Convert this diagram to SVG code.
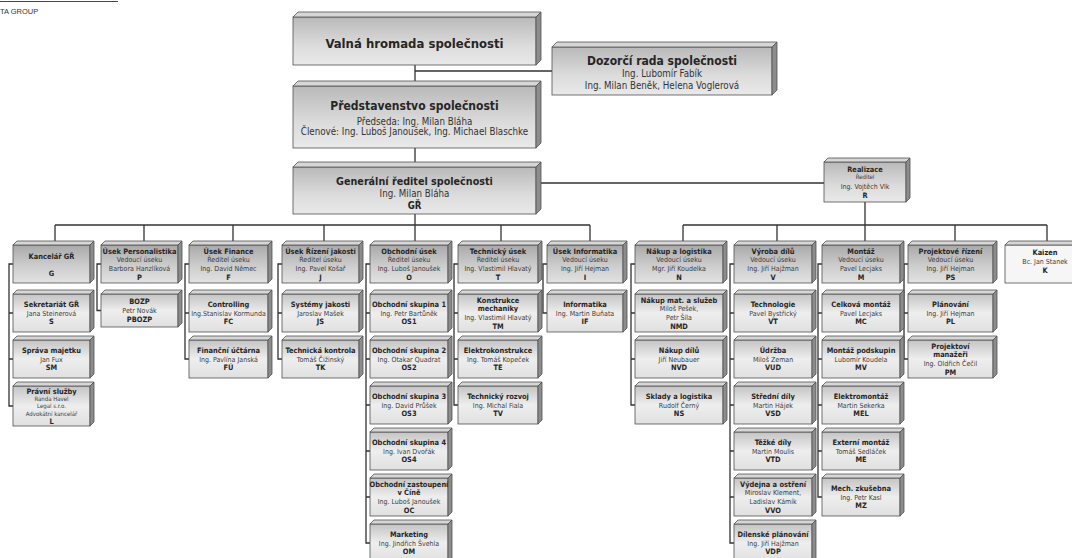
<svg xmlns="http://www.w3.org/2000/svg" width="1072" height="558" viewBox="0 0 1072 558">
<defs>
<linearGradient id="gH" x1="0" y1="0" x2="0" y2="1">
<stop offset="0" stop-color="#a9a9a9"/><stop offset="0.55" stop-color="#cdcdcd"/><stop offset="1" stop-color="#e2e2e2"/>
</linearGradient>
<linearGradient id="gS" x1="0" y1="0" x2="0" y2="1">
<stop offset="0" stop-color="#c4c4c4"/><stop offset="0.5" stop-color="#eeeeee"/><stop offset="1" stop-color="#e0e0e0"/>
</linearGradient>
<linearGradient id="gT" x1="0" y1="0" x2="0" y2="1">
<stop offset="0" stop-color="#b9b9b9"/><stop offset="0.6" stop-color="#dcdcdc"/><stop offset="1" stop-color="#e9e9e9"/>
</linearGradient>
</defs>
<style>
.box rect,.box path{stroke:#505050;stroke-width:0.8}
.hd rect{fill:url(#gH)}
.sb rect{fill:url(#gS)}
.big rect{fill:url(#gT)}
.kz rect{fill:#f6f6f6}
.tp{fill:#d6d6d6}
.sd{fill:#8c8c8c}
text{font-family:"DejaVu Sans Condensed","Liberation Sans",sans-serif;text-anchor:middle;fill:#262626}
.b{font-weight:bold;font-size:7.4px}
.r{font-size:7px;fill:#3a3a3a}
.s{font-size:6px;fill:#3a3a3a}
.t1{font-weight:bold;font-size:13px}
.t2{font-weight:bold;font-size:12px}
.t3{font-weight:bold;font-size:10.7px}
.r2{font-size:9.7px;fill:#333}
.b2{font-weight:bold;font-size:9.6px}
.hdr{font-family:"Liberation Sans",sans-serif;font-size:7.5px;text-anchor:start;fill:#333}
</style>
<rect width="1072" height="558" fill="#ffffff"/>
<g id="header">
<line x1="0" y1="1.5" x2="118" y2="1.5" stroke="#444" stroke-width="1"/>
<text class="hdr" x="0" y="14">TA GROUP</text>
</g>
<g id="connectors" fill="none" stroke="#333" stroke-width="1.3">
<path d="M415,65 V81 M415,71 H552 M415,148 V162 M536,183 H824 M415,214 V241 M55,225 H590 M55,225 V241 M144,225 V241 M233,225 V241 M324,225 V241 M501,225 V241 M590,225 V241 M865,202 V241 M683,225 H1047 M683,225 V241 M777,225 V241 M955,225 V241 M1047,225 V241"/>
<path d="M13,264 H9 V406 H13 M9,313 H13 M9,359 H13"/>
<path d="M101,264 H97 V310.5 H101"/>
<path d="M189,264 H185 V359 H189 M185,313 H189"/>
<path d="M282,264 H278 V359 H282 M278,313 H282"/>
<path d="M370,264 H366 V543 H370 M366,313 H370 M366,359 H370 M366,405 H370 M366,451 H370 M366,497 H370"/>
<path d="M458,264 H454 V405 H458 M454,313 H458 M454,359 H458"/>
<path d="M547,264 H543 V313 H547"/>
<path d="M635,264 H631 V405 H635 M631,313 H635 M631,359 H635"/>
<path d="M734,264 H730 V543 H734 M730,313 H734 M730,359 H734 M730,405 H734 M730,451 H734 M730,497 H734"/>
<path d="M822,264 H818 V497 H822 M818,313 H822 M818,359 H822 M818,405 H822 M818,451 H822"/>
<path d="M908,264 H904 V359 H908 M904,313 H908"/>
</g>

<g id="valna" class="box big">
<rect x="293" y="17" width="243" height="48"/>
<path class="tp" d="M293,17 l5,-5 h243 l-5,5 z"/><path class="sd" d="M536,17 l5,-5 v48 l-5,5 z"/>
<text class="t1" x="414.5" y="47.7">Valná hromada společnosti</text>
</g>
<g id="dozorci" class="box big">
<rect x="552" y="47" width="220" height="48"/>
<path class="tp" d="M552,47 l5,-5 h220 l-5,5 z"/><path class="sd" d="M772,47 l5,-5 v48 l-5,5 z"/>
<text x="662"><tspan class="t2" x="662" y="64.7">Dozorčí rada společnosti</tspan><tspan class="r2" x="662" y="77.1">Ing. Lubomír Fabík</tspan><tspan class="r2" x="662" y="89">Ing. Milan Beněk, Helena Voglerová</tspan></text>
</g>
<g id="predstavenstvo" class="box big">
<rect x="293" y="86" width="243" height="62"/>
<path class="tp" d="M293,86 l5,-5 h243 l-5,5 z"/><path class="sd" d="M536,86 l5,-5 v62 l-5,5 z"/>
<text x="414.5"><tspan class="t2" x="414.5" y="110.3">Představenstvo společnosti</tspan><tspan class="r2" x="414.5" y="124.7">Předseda: Ing. Milan Bláha</tspan><tspan class="r2" x="414.5" y="135.4">Členové: Ing. Luboš Janoušek, Ing. Michael Blaschke</tspan></text>
</g>
<g id="generalni" class="box big">
<rect x="293" y="167" width="243" height="47"/>
<path class="tp" d="M293,167 l5,-5 h243 l-5,5 z"/><path class="sd" d="M536,167 l5,-5 v47 l-5,5 z"/>
<text x="414.5"><tspan class="t3" x="414.5" y="184.6">Generální ředitel společnosti</tspan><tspan class="r2" x="414.5" y="197.4">Ing. Milan Bláha</tspan><tspan class="b2" x="414.5" y="209.1">GŘ</tspan></text>
</g>
<g id="realizace" class="box big">
<rect x="824" y="162" width="82" height="40"/>
<path class="tp" d="M824,162 l4,-4 h82 l-4,4 z"/><path class="sd" d="M906,162 l4,-4 v40 l-4,4 z"/>
<text x="865"><tspan class="b" x="865" y="171.7">Realizace</tspan><tspan class="s" x="865" y="179">Ředitel</tspan><tspan class="r" x="865" y="189.1">Ing. Vojtěch Vlk</tspan><tspan class="b" x="865" y="198.4">R</tspan></text>
</g>

<!-- Column 1 -->
<g id="kancelar" class="box hd">
<rect x="13" y="245" width="77" height="38"/>
<path class="tp" d="M13,245 l4,-4 h77 l-4,4 z"/><path class="sd" d="M90,245 l4,-4 v38 l-4,4 z"/>
<text x="51.5"><tspan class="b" x="51.5" y="259.3">Kancelář GŘ</tspan><tspan class="b" x="51.5" y="275.9">G</tspan></text>
</g>
<g id="sekretariat" class="box sb">
<rect x="13" y="294" width="77" height="38"/>
<path class="tp" d="M13,294 l4,-4 h77 l-4,4 z"/><path class="sd" d="M90,294 l4,-4 v38 l-4,4 z"/>
<text x="51.5"><tspan class="b" x="51.5" y="306.9">Sekretariát GŘ</tspan><tspan class="r" x="51.5" y="315.6">Jana Steinerová</tspan><tspan class="b" x="51.5" y="324.3">S</tspan></text>
</g>
<g id="sprava" class="box sb">
<rect x="13" y="340" width="77" height="38"/>
<path class="tp" d="M13,340 l4,-4 h77 l-4,4 z"/><path class="sd" d="M90,340 l4,-4 v38 l-4,4 z"/>
<text x="51.5"><tspan class="b" x="51.5" y="352.9">Správa majetku</tspan><tspan class="r" x="51.5" y="361.6">Jan Fux</tspan><tspan class="b" x="51.5" y="370.3">SM</tspan></text>
</g>
<g id="pravni" class="box sb">
<rect x="13" y="386" width="77" height="40"/>
<path class="tp" d="M13,386 l4,-4 h77 l-4,4 z"/><path class="sd" d="M90,386 l4,-4 v40 l-4,4 z"/>
<text x="51.5"><tspan class="b" x="51.5" y="393.7">Právní služby</tspan><tspan class="s" x="51.5" y="400.6">Randa Havel</tspan><tspan class="s" x="51.5" y="408.1">Legal s.r.o.</tspan><tspan class="s" x="51.5" y="415.6">Advokátní kancelář</tspan><tspan class="b" x="51.5" y="423.7">L</tspan></text>
</g>

<!-- Column 2 -->
<g id="personalistika" class="box hd">
<rect x="101" y="245" width="77" height="38"/>
<path class="tp" d="M101,245 l4,-4 h77 l-4,4 z"/><path class="sd" d="M178,245 l4,-4 v38 l-4,4 z"/>
<text x="139.5"><tspan class="b" x="139.5" y="253.55">Úsek Personalistika</tspan><tspan class="r" x="139.5" y="262.25">Vedoucí úseku</tspan><tspan class="r" x="139.5" y="270.95">Barbora Hanzlíková</tspan><tspan class="b" x="139.5" y="279.65">P</tspan></text>
</g>
<g id="bozp" class="box sb">
<rect x="101" y="294" width="77" height="33"/>
<path class="tp" d="M101,294 l4,-4 h77 l-4,4 z"/><path class="sd" d="M178,294 l4,-4 v33 l-4,4 z"/>
<text x="139.5"><tspan class="b" x="139.5" y="304.4">BOZP</tspan><tspan class="r" x="139.5" y="313.1">Petr Novák</tspan><tspan class="b" x="139.5" y="321.8">PBOZP</tspan></text>
</g>

<!-- Column 3 -->
<g id="finance" class="box hd">
<rect x="189" y="245" width="79" height="38"/>
<path class="tp" d="M189,245 l4,-4 h79 l-4,4 z"/><path class="sd" d="M268,245 l4,-4 v38 l-4,4 z"/>
<text x="228.5"><tspan class="b" x="228.5" y="253.55">Úsek Finance</tspan><tspan class="r" x="228.5" y="262.25">Ředitel úseku</tspan><tspan class="r" x="228.5" y="270.95">Ing. David Němec</tspan><tspan class="b" x="228.5" y="279.65">F</tspan></text>
</g>
<g id="controlling" class="box sb">
<rect x="189" y="294" width="79" height="38"/>
<path class="tp" d="M189,294 l4,-4 h79 l-4,4 z"/><path class="sd" d="M268,294 l4,-4 v38 l-4,4 z"/>
<text x="228.5"><tspan class="b" x="228.5" y="306.9">Controlling</tspan><tspan class="r" x="228.5" y="315.6">Ing.Stanislav Kormunda</tspan><tspan class="b" x="228.5" y="324.3">FC</tspan></text>
</g>
<g id="uctarna" class="box sb">
<rect x="189" y="340" width="79" height="38"/>
<path class="tp" d="M189,340 l4,-4 h79 l-4,4 z"/><path class="sd" d="M268,340 l4,-4 v38 l-4,4 z"/>
<text x="228.5"><tspan class="b" x="228.5" y="352.9">Finanční účtárna</tspan><tspan class="r" x="228.5" y="361.6">Ing. Pavlína Janská</tspan><tspan class="b" x="228.5" y="370.3">FÚ</tspan></text>
</g>

<!-- Column 4 -->
<g id="jakost" class="box hd">
<rect x="282" y="245" width="77" height="38"/>
<path class="tp" d="M282,245 l4,-4 h77 l-4,4 z"/><path class="sd" d="M359,245 l4,-4 v38 l-4,4 z"/>
<text x="320.5"><tspan class="b" x="320.5" y="253.55">Úsek Řízení jakosti</tspan><tspan class="r" x="320.5" y="262.25">Ředitel úseku</tspan><tspan class="r" x="320.5" y="270.95">Ing. Pavel Košař</tspan><tspan class="b" x="320.5" y="279.65">J</tspan></text>
</g>
<g id="systemy" class="box sb">
<rect x="282" y="294" width="77" height="38"/>
<path class="tp" d="M282,294 l4,-4 h77 l-4,4 z"/><path class="sd" d="M359,294 l4,-4 v38 l-4,4 z"/>
<text x="320.5"><tspan class="b" x="320.5" y="306.9">Systémy jakosti</tspan><tspan class="r" x="320.5" y="315.6">Jaroslav Mašek</tspan><tspan class="b" x="320.5" y="324.3">JS</tspan></text>
</g>
<g id="kontrola" class="box sb">
<rect x="282" y="340" width="77" height="38"/>
<path class="tp" d="M282,340 l4,-4 h77 l-4,4 z"/><path class="sd" d="M359,340 l4,-4 v38 l-4,4 z"/>
<text x="320.5"><tspan class="b" x="320.5" y="352.9">Technická kontrola</tspan><tspan class="r" x="320.5" y="361.6">Tomáš Čižinský</tspan><tspan class="b" x="320.5" y="370.3">TK</tspan></text>
</g>

<!-- Column 5 -->
<g id="obchodni" class="box hd">
<rect x="370" y="245" width="78" height="38"/>
<path class="tp" d="M370,245 l4,-4 h78 l-4,4 z"/><path class="sd" d="M448,245 l4,-4 v38 l-4,4 z"/>
<text x="409"><tspan class="b" x="409" y="253.55">Obchodní úsek</tspan><tspan class="r" x="409" y="262.25">Ředitel úseku</tspan><tspan class="r" x="409" y="270.95">Ing. Luboš Janoušek</tspan><tspan class="b" x="409" y="279.65">O</tspan></text>
</g>
<g id="os1" class="box sb">
<rect x="370" y="294" width="78" height="38"/>
<path class="tp" d="M370,294 l4,-4 h78 l-4,4 z"/><path class="sd" d="M448,294 l4,-4 v38 l-4,4 z"/>
<text x="409"><tspan class="b" x="409" y="306.9">Obchodní skupina 1</tspan><tspan class="r" x="409" y="315.6">Ing. Petr Bartůněk</tspan><tspan class="b" x="409" y="324.3">OS1</tspan></text>
</g>
<g id="os2" class="box sb">
<rect x="370" y="340" width="78" height="38"/>
<path class="tp" d="M370,340 l4,-4 h78 l-4,4 z"/><path class="sd" d="M448,340 l4,-4 v38 l-4,4 z"/>
<text x="409"><tspan class="b" x="409" y="352.9">Obchodní skupina 2</tspan><tspan class="r" x="409" y="361.6">Ing. Otakar Quadrat</tspan><tspan class="b" x="409" y="370.3">OS2</tspan></text>
</g>
<g id="os3" class="box sb">
<rect x="370" y="386" width="78" height="38"/>
<path class="tp" d="M370,386 l4,-4 h78 l-4,4 z"/><path class="sd" d="M448,386 l4,-4 v38 l-4,4 z"/>
<text x="409"><tspan class="b" x="409" y="398.9">Obchodní skupina 3</tspan><tspan class="r" x="409" y="407.6">Ing. David Průšek</tspan><tspan class="b" x="409" y="416.3">OS3</tspan></text>
</g>
<g id="os4" class="box sb">
<rect x="370" y="432" width="78" height="38"/>
<path class="tp" d="M370,432 l4,-4 h78 l-4,4 z"/><path class="sd" d="M448,432 l4,-4 v38 l-4,4 z"/>
<text x="409"><tspan class="b" x="409" y="444.9">Obchodní skupina 4</tspan><tspan class="r" x="409" y="453.6">Ing. Ivan Dvořák</tspan><tspan class="b" x="409" y="462.3">OS4</tspan></text>
</g>
<g id="oc" class="box sb">
<rect x="370" y="478" width="78" height="38"/>
<path class="tp" d="M370,478 l4,-4 h78 l-4,4 z"/><path class="sd" d="M448,478 l4,-4 v38 l-4,4 z"/>
<text x="409"><tspan class="b" x="409" y="486.55">Obchodní zastoupení</tspan><tspan class="b" x="409" y="495.25">v Číně</tspan><tspan class="r" x="409" y="503.95">Ing. Luboš Janoušek</tspan><tspan class="b" x="409" y="512.65">OC</tspan></text>
</g>
<g id="marketing" class="box sb">
<rect x="370" y="524" width="78" height="38"/>
<path class="tp" d="M370,524 l4,-4 h78 l-4,4 z"/><path class="sd" d="M448,524 l4,-4 v38 l-4,4 z"/>
<text x="409"><tspan class="b" x="409" y="536.9">Marketing</tspan><tspan class="r" x="409" y="545.6">Ing. Jindřich Švehla</tspan><tspan class="b" x="409" y="554.3">OM</tspan></text>
</g>

<!-- Column 6 -->
<g id="technicky" class="box hd">
<rect x="458" y="245" width="80" height="38"/>
<path class="tp" d="M458,245 l4,-4 h80 l-4,4 z"/><path class="sd" d="M538,245 l4,-4 v38 l-4,4 z"/>
<text x="498"><tspan class="b" x="498" y="253.55">Technický úsek</tspan><tspan class="r" x="498" y="262.25">Ředitel úseku</tspan><tspan class="r" x="498" y="270.95">Ing. Vlastimil Hlavatý</tspan><tspan class="b" x="498" y="279.65">T</tspan></text>
</g>
<g id="konstrukce" class="box sb">
<rect x="458" y="294" width="80" height="38"/>
<path class="tp" d="M458,294 l4,-4 h80 l-4,4 z"/><path class="sd" d="M538,294 l4,-4 v38 l-4,4 z"/>
<text x="498"><tspan class="b" x="498" y="302.55">Konstrukce</tspan><tspan class="b" x="498" y="311.25">mechaniky</tspan><tspan class="r" x="498" y="319.95">Ing. Vlastimil Hlavatý</tspan><tspan class="b" x="498" y="328.65">TM</tspan></text>
</g>
<g id="elektrokonstrukce" class="box sb">
<rect x="458" y="340" width="80" height="38"/>
<path class="tp" d="M458,340 l4,-4 h80 l-4,4 z"/><path class="sd" d="M538,340 l4,-4 v38 l-4,4 z"/>
<text x="498"><tspan class="b" x="498" y="352.9">Elektrokonstrukce</tspan><tspan class="r" x="498" y="361.6">Ing. Tomáš Kopeček</tspan><tspan class="b" x="498" y="370.3">TE</tspan></text>
</g>
<g id="rozvoj" class="box sb">
<rect x="458" y="386" width="80" height="38"/>
<path class="tp" d="M458,386 l4,-4 h80 l-4,4 z"/><path class="sd" d="M538,386 l4,-4 v38 l-4,4 z"/>
<text x="498"><tspan class="b" x="498" y="398.9">Technický rozvoj</tspan><tspan class="r" x="498" y="407.6">Ing. Michal Fiala</tspan><tspan class="b" x="498" y="416.3">TV</tspan></text>
</g>

<!-- Column 7 -->
<g id="informatika-usek" class="box hd">
<rect x="547" y="245" width="76" height="38"/>
<path class="tp" d="M547,245 l4,-4 h76 l-4,4 z"/><path class="sd" d="M623,245 l4,-4 v38 l-4,4 z"/>
<text x="585"><tspan class="b" x="585" y="253.55">Úsek Informatika</tspan><tspan class="r" x="585" y="262.25">Vedoucí úseku</tspan><tspan class="r" x="585" y="270.95">Ing. Jiří Hejman</tspan><tspan class="b" x="585" y="279.65">I</tspan></text>
</g>
<g id="informatika" class="box sb">
<rect x="547" y="294" width="76" height="38"/>
<path class="tp" d="M547,294 l4,-4 h76 l-4,4 z"/><path class="sd" d="M623,294 l4,-4 v38 l-4,4 z"/>
<text x="585"><tspan class="b" x="585" y="306.9">Informatika</tspan><tspan class="r" x="585" y="315.6">Ing. Martin Buňata</tspan><tspan class="b" x="585" y="324.3">IF</tspan></text>
</g>

<!-- Column 8 -->
<g id="nakup" class="box hd">
<rect x="635" y="245" width="88" height="38"/>
<path class="tp" d="M635,245 l4,-4 h88 l-4,4 z"/><path class="sd" d="M723,245 l4,-4 v38 l-4,4 z"/>
<text x="679"><tspan class="b" x="679" y="253.55">Nákup a logistika</tspan><tspan class="r" x="679" y="262.25">Vedoucí úseku</tspan><tspan class="r" x="679" y="270.95">Mgr. Jiří Koudelka</tspan><tspan class="b" x="679" y="279.65">N</tspan></text>
</g>
<g id="nmd" class="box sb">
<rect x="635" y="294" width="88" height="38"/>
<path class="tp" d="M635,294 l4,-4 h88 l-4,4 z"/><path class="sd" d="M723,294 l4,-4 v38 l-4,4 z"/>
<text x="679"><tspan class="b" x="679" y="302.55">Nákup mat. a služeb</tspan><tspan class="r" x="679" y="311.25">Miloš Pešek,</tspan><tspan class="r" x="679" y="319.95">Petr Šíla</tspan><tspan class="b" x="679" y="328.65">NMD</tspan></text>
</g>
<g id="nvd" class="box sb">
<rect x="635" y="340" width="88" height="38"/>
<path class="tp" d="M635,340 l4,-4 h88 l-4,4 z"/><path class="sd" d="M723,340 l4,-4 v38 l-4,4 z"/>
<text x="679"><tspan class="b" x="679" y="352.9">Nákup dílů</tspan><tspan class="r" x="679" y="361.6">Jiří Neubauer</tspan><tspan class="b" x="679" y="370.3">NVD</tspan></text>
</g>
<g id="ns" class="box sb">
<rect x="635" y="386" width="88" height="38"/>
<path class="tp" d="M635,386 l4,-4 h88 l-4,4 z"/><path class="sd" d="M723,386 l4,-4 v38 l-4,4 z"/>
<text x="679"><tspan class="b" x="679" y="398.9">Sklady a logistika</tspan><tspan class="r" x="679" y="407.6">Rudolf Černý</tspan><tspan class="b" x="679" y="416.3">NS</tspan></text>
</g>

<!-- Column 9 -->
<g id="vyroba" class="box hd">
<rect x="734" y="245" width="78" height="38"/>
<path class="tp" d="M734,245 l4,-4 h78 l-4,4 z"/><path class="sd" d="M812,245 l4,-4 v38 l-4,4 z"/>
<text x="773"><tspan class="b" x="773" y="253.55">Výroba dílů</tspan><tspan class="r" x="773" y="262.25">Vedoucí úseku</tspan><tspan class="r" x="773" y="270.95">Ing. Jiří Hajžman</tspan><tspan class="b" x="773" y="279.65">V</tspan></text>
</g>
<g id="vt" class="box sb">
<rect x="734" y="294" width="78" height="38"/>
<path class="tp" d="M734,294 l4,-4 h78 l-4,4 z"/><path class="sd" d="M812,294 l4,-4 v38 l-4,4 z"/>
<text x="773"><tspan class="b" x="773" y="306.9">Technologie</tspan><tspan class="r" x="773" y="315.6">Pavel Bystřický</tspan><tspan class="b" x="773" y="324.3">VT</tspan></text>
</g>
<g id="vud" class="box sb">
<rect x="734" y="340" width="78" height="38"/>
<path class="tp" d="M734,340 l4,-4 h78 l-4,4 z"/><path class="sd" d="M812,340 l4,-4 v38 l-4,4 z"/>
<text x="773"><tspan class="b" x="773" y="352.9">Údržba</tspan><tspan class="r" x="773" y="361.6">Miloš Zeman</tspan><tspan class="b" x="773" y="370.3">VUD</tspan></text>
</g>
<g id="vsd" class="box sb">
<rect x="734" y="386" width="78" height="38"/>
<path class="tp" d="M734,386 l4,-4 h78 l-4,4 z"/><path class="sd" d="M812,386 l4,-4 v38 l-4,4 z"/>
<text x="773"><tspan class="b" x="773" y="398.9">Střední díly</tspan><tspan class="r" x="773" y="407.6">Martin Hájek</tspan><tspan class="b" x="773" y="416.3">VSD</tspan></text>
</g>
<g id="vtd" class="box sb">
<rect x="734" y="432" width="78" height="38"/>
<path class="tp" d="M734,432 l4,-4 h78 l-4,4 z"/><path class="sd" d="M812,432 l4,-4 v38 l-4,4 z"/>
<text x="773"><tspan class="b" x="773" y="444.9">Těžké díly</tspan><tspan class="r" x="773" y="453.6">Martin Moulis</tspan><tspan class="b" x="773" y="462.3">VTD</tspan></text>
</g>
<g id="vvo" class="box sb">
<rect x="734" y="478" width="78" height="38"/>
<path class="tp" d="M734,478 l4,-4 h78 l-4,4 z"/><path class="sd" d="M812,478 l4,-4 v38 l-4,4 z"/>
<text x="773"><tspan class="b" x="773" y="486.55">Výdejna a ostření</tspan><tspan class="r" x="773" y="495.25">Miroslav Klement,</tspan><tspan class="r" x="773" y="503.95">Ladislav Kámík</tspan><tspan class="b" x="773" y="512.65">VVO</tspan></text>
</g>
<g id="vdp" class="box sb">
<rect x="734" y="524" width="78" height="38"/>
<path class="tp" d="M734,524 l4,-4 h78 l-4,4 z"/><path class="sd" d="M812,524 l4,-4 v38 l-4,4 z"/>
<text x="773"><tspan class="b" x="773" y="536.9">Dílenské plánování</tspan><tspan class="r" x="773" y="545.6">Ing. Jiří Hajžman</tspan><tspan class="b" x="773" y="554.3">VDP</tspan></text>
</g>

<!-- Column 10 -->
<g id="montaz" class="box hd">
<rect x="822" y="245" width="78" height="38"/>
<path class="tp" d="M822,245 l4,-4 h78 l-4,4 z"/><path class="sd" d="M900,245 l4,-4 v38 l-4,4 z"/>
<text x="861"><tspan class="b" x="861" y="253.55">Montáž</tspan><tspan class="r" x="861" y="262.25">Vedoucí úseku</tspan><tspan class="r" x="861" y="270.95">Pavel Lecjaks</tspan><tspan class="b" x="861" y="279.65">M</tspan></text>
</g>
<g id="mc" class="box sb">
<rect x="822" y="294" width="78" height="38"/>
<path class="tp" d="M822,294 l4,-4 h78 l-4,4 z"/><path class="sd" d="M900,294 l4,-4 v38 l-4,4 z"/>
<text x="861"><tspan class="b" x="861" y="306.9">Celková montáž</tspan><tspan class="r" x="861" y="315.6">Pavel Lecjaks</tspan><tspan class="b" x="861" y="324.3">MC</tspan></text>
</g>
<g id="mv" class="box sb">
<rect x="822" y="340" width="78" height="38"/>
<path class="tp" d="M822,340 l4,-4 h78 l-4,4 z"/><path class="sd" d="M900,340 l4,-4 v38 l-4,4 z"/>
<text x="861"><tspan class="b" x="861" y="352.9">Montáž podskupin</tspan><tspan class="r" x="861" y="361.6">Lubomír Koudela</tspan><tspan class="b" x="861" y="370.3">MV</tspan></text>
</g>
<g id="mel" class="box sb">
<rect x="822" y="386" width="78" height="38"/>
<path class="tp" d="M822,386 l4,-4 h78 l-4,4 z"/><path class="sd" d="M900,386 l4,-4 v38 l-4,4 z"/>
<text x="861"><tspan class="b" x="861" y="398.9">Elektromontáž</tspan><tspan class="r" x="861" y="407.6">Martin Sekerka</tspan><tspan class="b" x="861" y="416.3">MEL</tspan></text>
</g>
<g id="me" class="box sb">
<rect x="822" y="432" width="78" height="38"/>
<path class="tp" d="M822,432 l4,-4 h78 l-4,4 z"/><path class="sd" d="M900,432 l4,-4 v38 l-4,4 z"/>
<text x="861"><tspan class="b" x="861" y="444.9">Externí montáž</tspan><tspan class="r" x="861" y="453.6">Tomáš Sedláček</tspan><tspan class="b" x="861" y="462.3">ME</tspan></text>
</g>
<g id="mz" class="box sb">
<rect x="822" y="478" width="78" height="38"/>
<path class="tp" d="M822,478 l4,-4 h78 l-4,4 z"/><path class="sd" d="M900,478 l4,-4 v38 l-4,4 z"/>
<text x="861"><tspan class="b" x="861" y="490.9">Mech. zkušebna</tspan><tspan class="r" x="861" y="499.6">Ing. Petr Kasl</tspan><tspan class="b" x="861" y="508.3">MZ</tspan></text>
</g>

<!-- Column 11 -->
<g id="projektove" class="box hd">
<rect x="908" y="245" width="85" height="38"/>
<path class="tp" d="M908,245 l4,-4 h85 l-4,4 z"/><path class="sd" d="M993,245 l4,-4 v38 l-4,4 z"/>
<text x="950.5"><tspan class="b" x="950.5" y="253.55">Projektové řízení</tspan><tspan class="r" x="950.5" y="262.25">Vedoucí úseku</tspan><tspan class="r" x="950.5" y="270.95">Ing. Jiří Hejman</tspan><tspan class="b" x="950.5" y="279.65">PS</tspan></text>
</g>
<g id="planovani" class="box sb">
<rect x="908" y="294" width="85" height="38"/>
<path class="tp" d="M908,294 l4,-4 h85 l-4,4 z"/><path class="sd" d="M993,294 l4,-4 v38 l-4,4 z"/>
<text x="950.5"><tspan class="b" x="950.5" y="306.9">Plánování</tspan><tspan class="r" x="950.5" y="315.6">Ing. Jiří Hejman</tspan><tspan class="b" x="950.5" y="324.3">PL</tspan></text>
</g>
<g id="manazeri" class="box sb">
<rect x="908" y="340" width="85" height="38"/>
<path class="tp" d="M908,340 l4,-4 h85 l-4,4 z"/><path class="sd" d="M993,340 l4,-4 v38 l-4,4 z"/>
<text x="950.5"><tspan class="b" x="950.5" y="348.55">Projektoví</tspan><tspan class="b" x="950.5" y="357.25">manažeři</tspan><tspan class="r" x="950.5" y="365.95">Ing. Oldřich Čečil</tspan><tspan class="b" x="950.5" y="374.65">PM</tspan></text>
</g>

<!-- Column 12 -->
<g id="kaizen" class="box kz">
<rect x="1005" y="245" width="80" height="38"/>
<path class="tp" d="M1005,245 l4,-4 h80 l-4,4 z"/>
<text x="1045"><tspan class="b" x="1045" y="255">Kaizen</tspan><tspan class="r" x="1045" y="263.8">Bc. Jan Stanek</tspan><tspan class="b" x="1045" y="272.5">K</tspan></text>
</g>
</svg>
